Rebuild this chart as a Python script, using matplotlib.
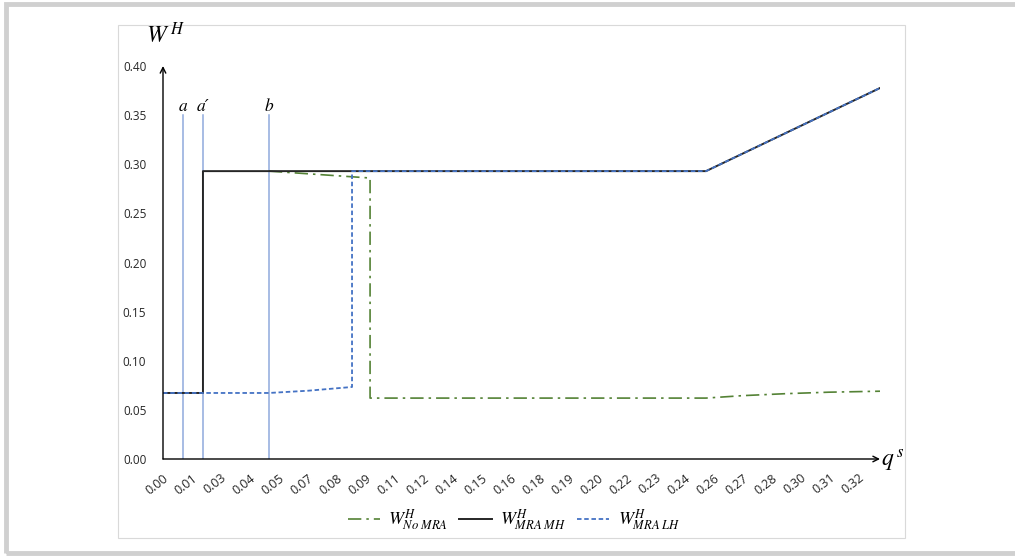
import matplotlib.pyplot as plt
from matplotlib.patches import Rectangle

plt.rcParams['mathtext.fontset'] = 'stix'
plt.rcParams['font.family'] = ['Open Sans', 'DejaVu Sans']

# category ticks on the q^s axis
q_ticks = [i * 0.0135 for i in range(25)]
q_labels = ['0.00', '0.01', '0.03', '0.04', '0.05', '0.07', '0.08', '0.09', '0.11',
            '0.12', '0.14', '0.15', '0.16', '0.18', '0.19', '0.20', '0.22', '0.23',
            '0.24', '0.26', '0.27', '0.28', '0.30', '0.31', '0.32']

# thresholds a, a', b
thr_q = [0.0093, 0.0186, 0.0493]
thr_names = ['a', 'a\u2032', 'b']

# W^H curves
q_no = [0.0493, 0.0964, 0.0964, 0.2528, 0.27, 0.29, 0.31, 0.3338]
w_no = [0.293, 0.286, 0.062, 0.062, 0.0645, 0.0665, 0.068, 0.069]
q_mh = [0.0, 0.0186, 0.0186, 0.2528, 0.3338]
w_mh = [0.0672, 0.0672, 0.293, 0.293, 0.3776]
q_lh = [0.0, 0.0493, 0.0675, 0.088, 0.088, 0.2528, 0.3338]
w_lh = [0.0672, 0.0672, 0.0695, 0.0733, 0.293, 0.293, 0.3776]

W, H = 1015, 557
fig = plt.figure(figsize=(W / 100, H / 100), dpi=100)

# outer gray frame and inner chart border
fig.patches.append(Rectangle((6 / W, 4 / H), (W - 4) / W, (H - 8) / H, transform=fig.transFigure,
                             fill=False, edgecolor='#d0d0d0', linewidth=3.5))
fig.patches.append(Rectangle((118 / W, (H - 538) / H), (905 - 118) / W, (538 - 25) / H,
                             transform=fig.transFigure, fill=False, edgecolor='#d9d9d9', linewidth=0.8))

ax = fig.add_axes([163 / W, (H - 459) / H, (880 - 163) / W, (459 - 66) / H])
xmax = 0.3338
ax.set_xlim(0, xmax)
ax.set_ylim(0, 0.40)

for q, name in zip(thr_q, thr_names):
    ax.plot([q, q], [0, 0.35], color='#8faadc', linewidth=1.1)
    ax.text(q, 0.359, name, ha='center', va='center', fontsize=12.5,
            family=['STIXGeneral', 'DejaVu Serif'], style='italic')

ax.plot(q_no, w_no, color='#548235', linewidth=1.2, dashes=(8, 3, 1.5, 3), label='$W^H_{No\\ MRA}$')
ax.plot(q_mh, w_mh, color='#262626', linewidth=1.4, label='$W^H_{MRA\\ MH}$')
ax.plot(q_lh, w_lh, color='#4472c4', linewidth=1.3, dashes=(2.5, 1.5), label='$W^H_{MRA\\ LH}$')

for s in ['top', 'right', 'left', 'bottom']:
    ax.spines[s].set_visible(False)
ax.annotate('', xy=(0, 0.40), xytext=(0, 0), xycoords='data',
            arrowprops=dict(arrowstyle='->', color='black', lw=1, shrinkA=0, shrinkB=0))
ax.annotate('', xy=(xmax, 0), xytext=(0, 0), xycoords='data',
            arrowprops=dict(arrowstyle='->', color='black', lw=1, shrinkA=0, shrinkB=0))

ax.set_yticks([i * 0.05 for i in range(9)])
ax.set_yticklabels([f'{i * 0.05:.2f}' for i in range(9)], fontsize=8.5, color='#262626')
ax.set_xticks(q_ticks)
ax.set_xticklabels(q_labels, fontsize=9, color='#262626', rotation=38, ha='right',
                   rotation_mode='anchor')
ax.tick_params(axis='y', length=0, pad=12)
ax.tick_params(axis='x', length=0, pad=9)

fig.text(146 / W, 1 - 36 / H, '$W^{\\,H}$', fontsize=17, va='center', ha='left')
fig.text(881 / W, 1 - 461 / H, '$q^{\\,s}$', fontsize=17, va='center', ha='left')

fig.legend(loc='center', bbox_to_anchor=(514 / W, 1 - 520 / H), ncol=3, frameon=False,
           fontsize=13, handlelength=1.8, columnspacing=0.6, handletextpad=0.45)

fig.savefig('out.png', dpi=100)
